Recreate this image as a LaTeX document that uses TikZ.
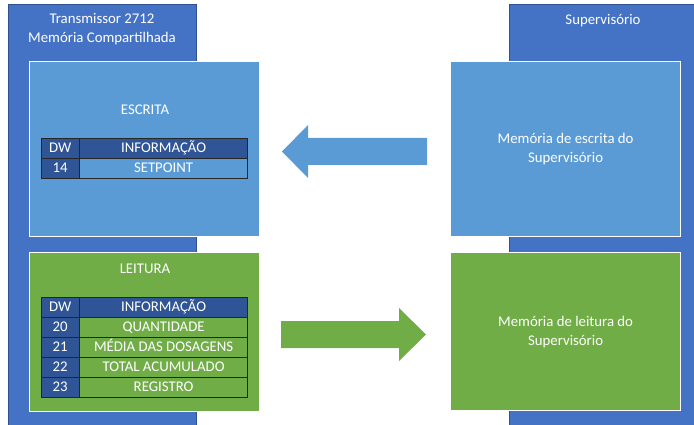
\documentclass[tikz,border=0pt]{standalone}
\usepackage{fontspec}
\setmainfont{Carlito}
\usetikzlibrary{positioning}
\definecolor{Frame}{HTML}{4472C4}
\definecolor{FrameLine}{HTML}{2F528F}
\definecolor{Write}{HTML}{5B9BD5}
\definecolor{Read}{HTML}{70AD47}
\definecolor{Head}{HTML}{2F5597}

\begin{document}
\begin{tikzpicture}[x=1pt,y=-1pt,
    frame/.style={draw=FrameLine,fill=Frame,line width=1pt,anchor=north west,inner sep=0pt},
    txt/.style={text=white,font=\fontsize{14.8}{19}\selectfont,align=center},
    mem/.style={draw=white,fill=#1,line width=1.2pt,anchor=north west,inner sep=0pt,minimum width=230pt,txt},
    cell/.style={draw=black!85,fill=#1,text=white,anchor=north west,inner sep=0pt,minimum height=20pt,
      text height=10.5pt,text depth=2.5pt,font=\fontsize{14.8}{16}\selectfont},
    dwcell/.style={cell=Head,minimum width=38pt},
    infocell/.style={cell=#1,minimum width=168pt}
  ]
    \useasboundingbox (0,0) rectangle (694,425);
    % outer frames
    \node[frame,minimum width=188pt,minimum height=424pt] (trans) at (8,4) {};
    \node[frame,minimum width=190pt,minimum height=424pt] (super) at (509,4) {};
    \node[txt] (transtitle) at (102,29.5) {Transmissor 2712\\Memória Compartilhada};
    \node[txt] (supertitle) at (603,21) {Supervisório};
    % memory areas
    \node[mem=Write,minimum height=175pt] (wrmem) at (29,61) {};
    \node[mem=Read,minimum height=159pt] (rdmem) at (29,252) {};
    \node[mem=Write,minimum height=175pt] (wrsup) at (450,61) {Memória de escrita do\\Supervisório};
    \node[mem=Read,minimum height=158pt] (rdsup) at (450,252) {Memória de leitura do\\Supervisório};
    \node[txt] (wrtitle) at (145,110) {ESCRITA};
    \node[txt] (rdtitle) at (145,269) {LEITURA};
    % write table
    \node[dwcell] (wrdw0) at (41,138) {DW};
    \node[infocell=Head] (wrinfo0) at (wrdw0.north east) {INFORMAÇÃO};
    \node[dwcell] (wrdw1) at (wrdw0.south west) {14};
    \node[infocell=Write] (wrinfo1) at (wrdw1.north east) {SETPOINT};
    % read table
    \node[dwcell] (rddw0) at (41,297) {DW};
    \node[infocell=Head] (rdinfo0) at (rddw0.north east) {INFORMAÇÃO};
    \foreach \dw/\info [count=\i] in {20/QUANTIDADE,21/MÉDIA DAS DOSAGENS,22/TOTAL ACUMULADO,23/REGISTRO}{
      \node[dwcell] (rddw\i) at (41,297+20*\i) {\dw};
      \node[infocell=Read] (rdinfo\i) at (rddw\i.north east) {\info};
    }
    % data flow arrows
    \fill[Write] (427,138) -- (308,138) -- (308,125) -- (282,151.5) -- (308,178) -- (308,165) -- (427,165) -- cycle;
    \fill[Read] (281,321) -- (399,321) -- (399,308) -- (426,334.5) -- (399,361) -- (399,348) -- (281,348) -- cycle;
\end{tikzpicture}
\end{document}
